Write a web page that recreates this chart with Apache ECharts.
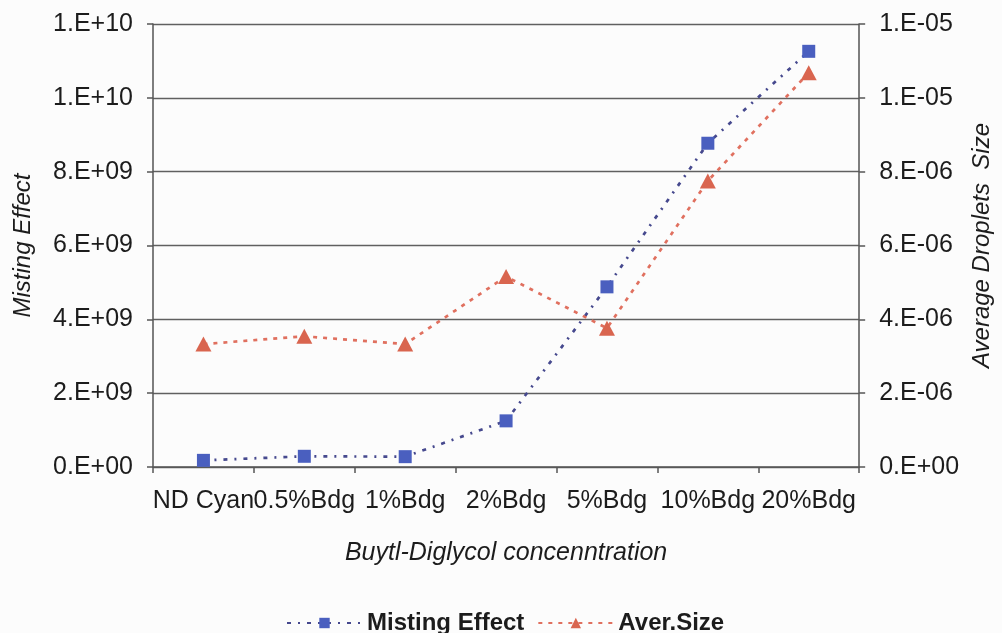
<!DOCTYPE html>
<html>
<head>
<meta charset="utf-8">
<script src="https://cdn.jsdelivr.net/npm/echarts@6/dist/echarts.min.js"></script>
<style>
  html, body { margin: 0; padding: 0; background: #fcfcfc; }
  #chart { width: 1002px; height: 633px; }
</style>
</head>
<body>
<div id="chart"></div>
<script>
// Butyl-diglycol concentration series
const categories = ['ND Cyan', '0.5%Bdg', '1%Bdg', '2%Bdg', '5%Bdg', '10%Bdg', '20%Bdg'];
const mistingEffect = [1.8e8, 2.9e8, 2.8e8, 1.25e9, 4.88e9, 8.77e9, 1.126e10];
const averageSize = [3.33e-6, 3.54e-6, 3.33e-6, 5.16e-6, 3.76e-6, 7.75e-6, 1.068e-5];

// Excel-style "0.E+00" number format
function sci(v) {
  const parts = Number(v).toExponential(0).split('e');
  const n = parseInt(parts[1], 10);
  return parts[0] + '.E' + (n < 0 ? '-' : '+') + String(Math.abs(n)).padStart(2, '0');
}

const FONT = '"Liberation Sans", Arial, sans-serif';
const TEXT = '#1c1c1c';
const AXIS = '#555555';

const chart = echarts.init(document.getElementById('chart'), null, { renderer: 'canvas' });

chart.setOption({
  backgroundColor: '#fcfcfc',
  animation: false,
  textStyle: { fontFamily: FONT, color: TEXT },
  grid: { left: 153, right: 140, top: 24, bottom: 166, containLabel: false },
  legend: {
    left: 281,
    top: 606,
    itemWidth: 75,
    itemHeight: 13,
    itemGap: 13,
    textStyle: { fontFamily: FONT, fontSize: 24, fontWeight: 'bold', color: TEXT },
    data: ['Misting Effect', 'Aver.Size']
  },
  xAxis: {
    type: 'category',
    data: categories,
    boundaryGap: true,
    name: 'Buytl-Diglycol concenntration',
    nameLocation: 'middle',
    nameGap: 74,
    nameTextStyle: { fontFamily: FONT, fontSize: 25, fontStyle: 'italic', color: TEXT },
    axisLine: { show: true, lineStyle: { color: AXIS, width: 1.5 } },
    axisTick: { show: true, inside: false, length: 6, interval: 0, alignWithLabel: false, lineStyle: { color: AXIS, width: 1.5 } },
    axisLabel: { interval: 0, margin: 22, fontFamily: FONT, fontSize: 25, color: TEXT },
    splitLine: { show: false }
  },
  yAxis: [
    {
      type: 'value',
      position: 'left',
      min: 0,
      max: 1.2e10,
      interval: 2e9,
      name: 'Misting Effect',
      nameLocation: 'middle',
      nameGap: 118,
      nameRotate: 90,
      nameTextStyle: { fontFamily: FONT, fontSize: 24, fontStyle: 'italic', color: TEXT },
      axisLine: { show: true, lineStyle: { color: AXIS, width: 1.5 } },
      axisTick: { show: true, inside: false, length: 6, lineStyle: { color: AXIS, width: 1.5 } },
      axisLabel: { margin: 20, fontFamily: FONT, fontSize: 25, color: TEXT, formatter: sci },
      splitLine: { show: true, lineStyle: { color: '#606060', width: 1.4 } }
    },
    {
      type: 'value',
      position: 'right',
      min: 0,
      max: 1.2e-5,
      interval: 2e-6,
      name: 'Average Droplets  Size',
      nameLocation: 'middle',
      nameGap: 108,
      nameRotate: 90,
      nameTextStyle: { fontFamily: FONT, fontSize: 24, fontStyle: 'italic', color: TEXT },
      axisLine: { show: true, lineStyle: { color: AXIS, width: 1.5 } },
      axisTick: { show: true, inside: false, length: 6, lineStyle: { color: AXIS, width: 1.5 } },
      axisLabel: { margin: 20, fontFamily: FONT, fontSize: 25, color: TEXT, formatter: sci },
      splitLine: { show: false }
    }
  ],
  series: [
    {
      name: 'Misting Effect',
      type: 'line',
      yAxisIndex: 0,
      data: mistingEffect,
      symbol: 'rect',
      symbolSize: 13,
      itemStyle: { color: '#4a5fbf' },
      lineStyle: { color: '#46498e', width: 2.7, type: [4, 7, 2, 7] },
      z: 3
    },
    {
      name: 'Aver.Size',
      type: 'line',
      yAxisIndex: 1,
      data: averageSize,
      symbol: 'triangle',
      symbolSize: [16, 15],
      itemStyle: { color: '#d9654f' },
      lineStyle: { color: '#e0705f', width: 2.7, type: [4, 6] },
      z: 4
    }
  ]
});
</script>
</body>
</html>
